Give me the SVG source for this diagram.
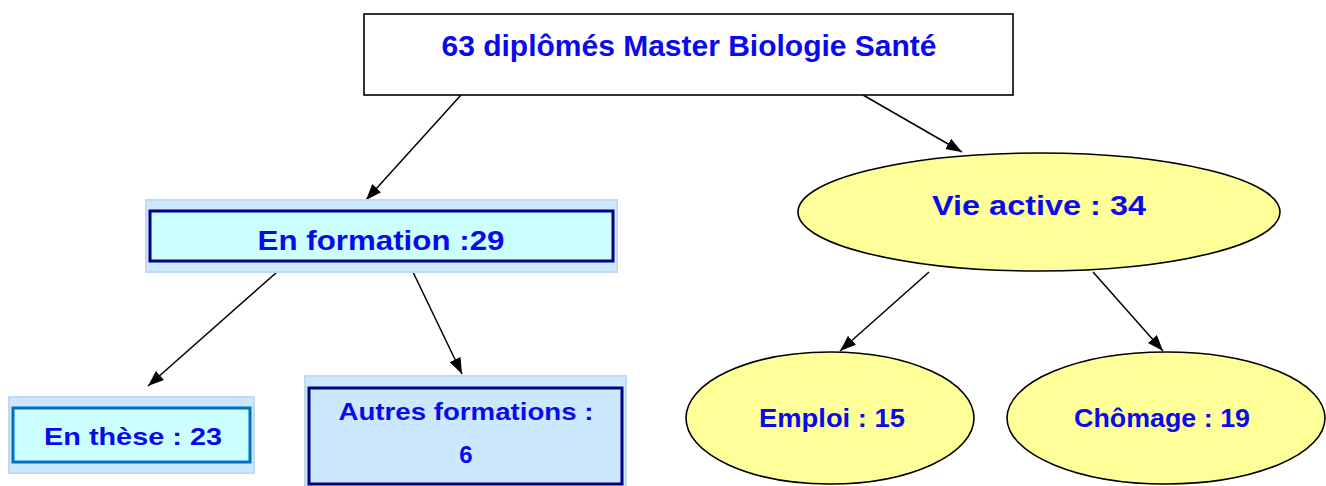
<svg xmlns="http://www.w3.org/2000/svg" width="1326" height="486" viewBox="0 0 1326 486">
<style>
text{font-family:"Liberation Sans",Arial,sans-serif;font-weight:bold;fill:#0a0aee;text-anchor:middle}
.outer{fill:#cce8ff;stroke:#c4d8f0;stroke-width:2}
.ell{fill:#ffff99;stroke:#000;stroke-width:1.6}
.con line{stroke:#000;stroke-width:1.5;marker-end:url(#ah)}
</style>
<defs>
<marker id="ah" viewBox="0 0 16 12" refX="16" refY="6" markerWidth="16" markerHeight="12" markerUnits="userSpaceOnUse" orient="auto">
<path d="M0,0 L16,6 L0,12 z" fill="#000"/>
</marker>
</defs>
<rect width="1326" height="486" fill="#fff"/>
<g class="con">
<line x1="461" y1="95" x2="366" y2="200"/>
<line x1="863" y1="95" x2="962" y2="152"/>
<line x1="277" y1="272" x2="148" y2="386"/>
<line x1="413" y1="272" x2="462" y2="374"/>
<line x1="929" y1="272" x2="840" y2="351"/>
<line x1="1093" y1="272" x2="1163" y2="351"/>
</g>
<g id="root">
<rect x="364" y="14" width="649" height="81" fill="#fff" stroke="#000" stroke-width="1.6"/>
<text x="689" y="56" font-size="30" textLength="495" lengthAdjust="spacingAndGlyphs">63 diplômés Master Biologie Santé</text>
</g>
<g id="formation">
<rect class="outer" x="146" y="200" width="471" height="72"/>
<rect x="150" y="211" width="463" height="50" fill="#ccffff" stroke="#000080" stroke-width="3"/>
<text x="381" y="250" font-size="27" textLength="247" lengthAdjust="spacingAndGlyphs">En formation :29</text>
</g>
<g id="these">
<rect class="outer" x="9" y="397" width="245" height="76"/>
<rect x="13" y="408" width="237" height="54" fill="#ccffff" stroke="#0070c0" stroke-width="3"/>
<text x="133" y="445" font-size="24" textLength="178" lengthAdjust="spacingAndGlyphs">En thèse : 23</text>
</g>
<g id="autres">
<rect class="outer" x="305" y="376" width="321" height="112"/>
<rect x="309" y="388" width="313" height="96" fill="#cce8ff" stroke="#000080" stroke-width="3"/>
<text x="466" y="420" font-size="24" textLength="255" lengthAdjust="spacingAndGlyphs">Autres formations :</text>
<text x="466" y="463" font-size="24">6</text>
</g>
<g id="vie">
<ellipse class="ell" cx="1039" cy="212" rx="241" ry="59"/>
<text x="1039" y="215" font-size="27" textLength="214" lengthAdjust="spacingAndGlyphs">Vie active : 34</text>
</g>
<g id="emploi">
<ellipse class="ell" cx="830" cy="418" rx="144" ry="66"/>
<text x="832" y="427" font-size="25" textLength="146" lengthAdjust="spacingAndGlyphs">Emploi : 15</text>
</g>
<g id="chomage">
<ellipse class="ell" cx="1166" cy="418" rx="159" ry="66"/>
<text x="1162" y="427" font-size="25" textLength="176" lengthAdjust="spacingAndGlyphs">Chômage : 19</text>
</g>
</svg>
